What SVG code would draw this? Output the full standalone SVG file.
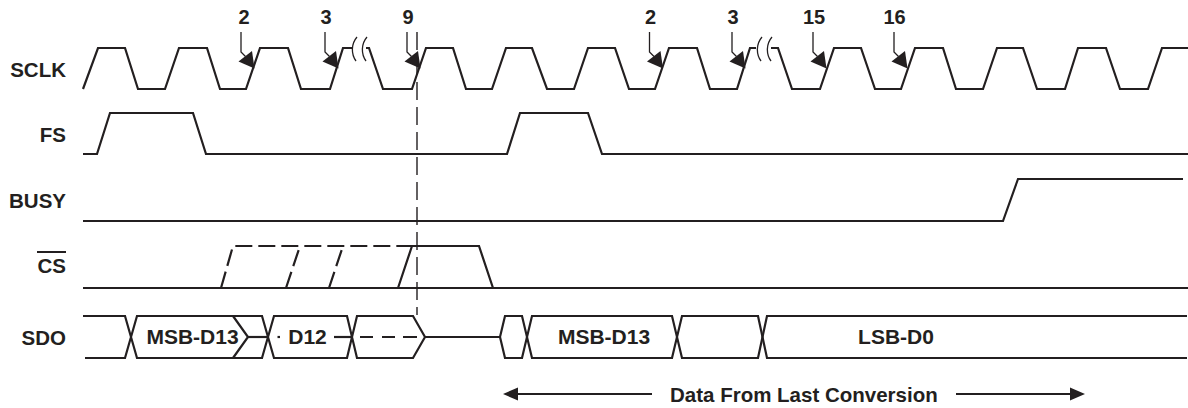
<svg xmlns="http://www.w3.org/2000/svg" xmlns:xlink="http://www.w3.org/1999/xlink" width="1188" height="408" viewBox="0 0 1188 408">
  <style>
    .sig { fill: none; stroke: #231f20; stroke-width: 2.2; stroke-linejoin: miter; stroke-linecap: butt; }
    .dsh { fill: none; stroke: #231f20; stroke-width: 2.2; stroke-dasharray: 17 6; }
    .thin { fill: none; stroke: #231f20; stroke-width: 1.3; }
    .vdash { fill: none; stroke: #231f20; stroke-width: 1.4; stroke-dasharray: 18 7; }
    .lbl { font-family: "Liberation Sans", Arial, sans-serif; font-weight: bold; font-size: 20.5px; fill: #231f20; }
    .num { font-family: "Liberation Sans", Arial, sans-serif; font-weight: bold; font-size: 20px; fill: #231f20; text-anchor: middle; }
    .bus { font-family: "Liberation Sans", Arial, sans-serif; font-weight: bold; font-size: 21px; fill: #231f20; text-anchor: middle; }
    .fill { fill: #231f20; stroke: none; }
  </style>
  <defs>
    <g id="edgeArrow">
      <path class="thin" d="M0,0 V20 L4.5,24.5"/>
      <path class="fill" d="M-2.5,29.5 L11,19 L13.5,36.5 Z"/>
    </g>
  </defs>
  <rect width="1188" height="408" fill="#ffffff"/>

  <g id="labels">
    <text class="lbl" x="66" y="77" text-anchor="end">SCLK</text>
    <text class="lbl" x="66" y="142" text-anchor="end">FS</text>
    <text class="lbl" x="66" y="208" text-anchor="end">BUSY</text>
    <text class="lbl" x="66" y="273" text-anchor="end">CS</text>
    <line x1="37" y1="252" x2="66" y2="252" stroke="#231f20" stroke-width="2"/>
    <text class="lbl" x="66" y="345" text-anchor="end">SDO</text>
  </g>

  <g id="sclk">
    <path class="sig" d="M83,89 L98,48 H125 L138,89 H165 L179,48 H207 L220,89 H246 L260,48 H288 L301,89 H330 L343,48 H352"/>
    <path class="sig" d="M366,48 H369 L383,89 H412 L426,48 H453 L466,89 H492 L506,48 H532 L547,89 H574 L588,48 H615 L629,89 H655 L669,48 H697 L710,89 H737 L750,48 H756"/>
    <path class="sig" d="M771,48 H778 L792,89 H820 L834,48 H861 L875,89 H901 L915,48 H943 L956,89 H983 L997,48 H1023 L1037,89 H1065 L1078,48 H1106 L1120,89 H1148 L1162,48 H1188"/>
    <path class="thin" d="M357,37 C351,44 351,54 356,61 M367,37 C361,44 361,54 366,61"/>
    <path class="thin" d="M762,37 C756,44 756,54 761,61 M772,37 C766,44 766,54 771,61"/>
  </g>

  <g id="fs">
    <path class="sig" d="M83,154 H97 L110,113 H193 L206,154 H507 L520,113 H588 L602,154 H1188"/>
  </g>

  <g id="busy">
    <path class="sig" d="M83,221 H1003 L1018,179 H1183"/>
  </g>

  <g id="cs">
    <path class="sig" d="M83,288 H1188"/>
    <path class="sig" d="M398,288 L412,246 H479 L493,288"/>
    <path class="dsh" d="M221,288 L233,246 H412"/>
    <path class="dsh" d="M286,288 L300,246"/>
    <path class="dsh" d="M329,288 L343,246"/>
  </g>

  <g id="sdo">
    <path class="sig" d="M83,316 H125 L137,358 H262 L274,316 H347 L357,358 H413 L425,337 L413,316 H357 L347,358 H274 L262,316 H137 L125,358 H85"/>
    <path class="sig" d="M233,316 L248,337 L233,358"/>
    <path class="sig" d="M248,337 H268"/>
    <path class="sig" d="M277.5,337 H280"/>
    <path class="sig" d="M334,337 H352"/>
    <path class="sig" d="M360,337 H373 M382,337 H395 M403,337 H417"/>
    <path class="sig" d="M425,337 H500 L505,316 H522 L532,358 H672 L682,316 H758 L767,358 H1187"/>
    <path class="sig" d="M500,337 L505,358 H522 L532,316 H672 L682,358 H758 L767,316 H1187"/>
    <text class="bus" x="192.5" y="344">MSB-D13</text>
    <text class="bus" x="307.5" y="344">D12</text>
    <text class="bus" x="604" y="344">MSB-D13</text>
    <text class="bus" x="896" y="344">LSB-D0</text>
  </g>

  <g id="connectors">
    <text class="num" x="244" y="24">2</text>
    <text class="num" x="326" y="24">3</text>
    <text class="num" x="408" y="24">9</text>
    <text class="num" x="650.5" y="24">2</text>
    <text class="num" x="733" y="24">3</text>
    <text class="num" x="814" y="24">15</text>
    <text class="num" x="894.5" y="24">16</text>
    <use xlink:href="#edgeArrow" transform="translate(241,32)"/>
    <use xlink:href="#edgeArrow" transform="translate(325,32)"/>
    <use xlink:href="#edgeArrow" transform="translate(407,32)"/>
    <use xlink:href="#edgeArrow" transform="translate(649.5,32)"/>
    <use xlink:href="#edgeArrow" transform="translate(732,32)"/>
    <use xlink:href="#edgeArrow" transform="translate(813,32)"/>
    <use xlink:href="#edgeArrow" transform="translate(894,32)"/>
    <path class="vdash" d="M417,32 V315"/>
    <path class="sig" d="M517,394 H652"/>
    <path class="fill" d="M503,394 L518,387.5 V400.5 Z"/>
    <path class="sig" d="M956,394 H1072"/>
    <path class="fill" d="M1085,394 L1070,387.5 V400.5 Z"/>
    <text class="lbl" x="670" y="402" font-size="21px">Data From Last Conversion</text>
  </g>
</svg>
